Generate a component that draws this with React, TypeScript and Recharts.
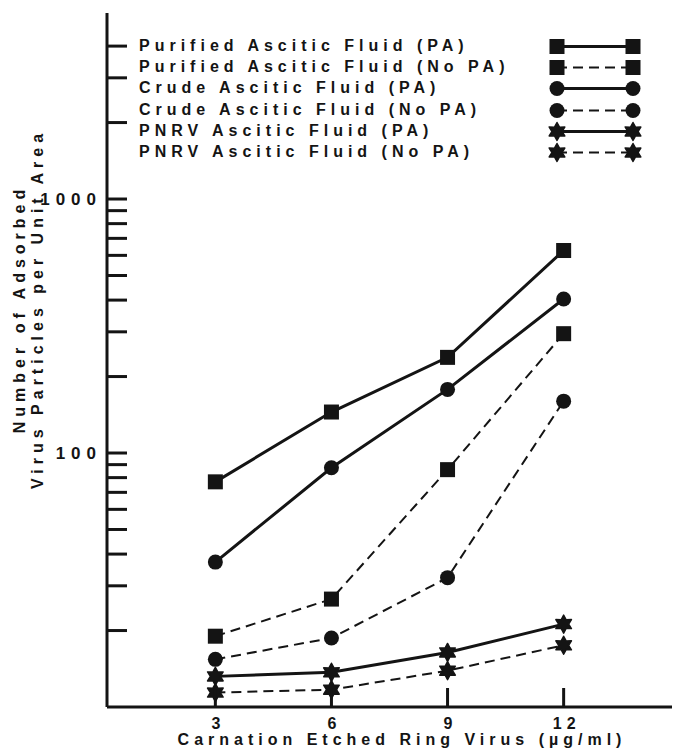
import { LineChart, Line, XAxis, YAxis, Legend } from 'recharts';

// Virus particles adsorbed vs. antigen concentration (log y)
const doses = [3, 6, 9, 12];
const purifiedPA = [77, 145, 238, 627];
const purifiedNoPA = [19, 26.6, 86, 295];
const crudePA = [37.2, 87.5, 178, 404];
const crudeNoPA = [15.4, 18.7, 32.3, 160];
const pnrvPA = [13.2, 13.7, 16.4, 21.2];
const pnrvNoPA = [11.4, 11.7, 13.9, 17.5];

const xTicks = [3, 6, 9, 12];
const yTicks = [20, 30, 40, 50, 60, 70, 80, 90, 100, 200, 300, 400, 500, 600, 700, 800, 900, 1000, 2000, 3000, 4000];
const yLabelled = [100, 1000];

const series = [
  { key: 'purifiedPA', name: 'Purified Ascitic Fluid (PA)', values: purifiedPA, shape: 'square', dashed: false },
  { key: 'purifiedNoPA', name: 'Purified Ascitic Fluid (No PA)', values: purifiedNoPA, shape: 'square', dashed: true },
  { key: 'crudePA', name: 'Crude Ascitic Fluid (PA)', values: crudePA, shape: 'circle', dashed: false },
  { key: 'crudeNoPA', name: 'Crude Ascitic Fluid (No PA)', values: crudeNoPA, shape: 'circle', dashed: true },
  { key: 'pnrvPA', name: 'PNRV Ascitic Fluid (PA)', values: pnrvPA, shape: 'star', dashed: false },
  { key: 'pnrvNoPA', name: 'PNRV Ascitic Fluid (No PA)', values: pnrvNoPA, shape: 'star', dashed: true },
];

const data = doses.map((dose, i) => {
  const row: any = { dose };
  series.forEach(s => { row[s.key] = s.values[i]; });
  return row;
});

const INK = '#141414';
const FONT = "'Liberation Sans', Arial, sans-serif";
const textStyle = { fontFamily: FONT, fontWeight: 700, fontSize: 16, letterSpacing: 5, fill: INK };
const tickStyle = { ...textStyle, fontSize: 17, letterSpacing: 6 };

const W = 675, H = 749;
const PLOT_LEFT = 107, PLOT_BOTTOM = 707;

const starPoints = (cx: number, cy: number, r1: number, r2: number, n: number) => {
  const pts: string[] = [];
  for (let i = 0; i < n * 2; i++) {
    const r = i % 2 === 0 ? r1 : r2;
    const a = (Math.PI * i) / n - Math.PI / 2;
    pts.push(`${cx + r * Math.cos(a)},${cy + r * Math.sin(a)}`);
  }
  return pts.join(' ');
};

const Marker = ({ cx, cy, shape }: { cx: number; cy: number; shape: string }) => {
  if (shape === 'square') return <rect x={cx - 7.5} y={cy - 7.5} width={15} height={15} fill={INK} />;
  if (shape === 'circle') return <circle cx={cx} cy={cy} r={7.5} fill={INK} />;
  return (
    <polygon points={starPoints(cx, cy, 9, 5, 6)} fill={INK} stroke={INK} strokeWidth={1.5} strokeLinejoin="round" />
  );
};

const YTick = ({ y, payload }: any) => (
  <g>
    <line x1={PLOT_LEFT} x2={PLOT_LEFT + 20} y1={y} y2={y} stroke={INK} strokeWidth={3} />
    {yLabelled.includes(payload.value) && (
      <text x={PLOT_LEFT - 5} y={y} dy={6} textAnchor="end" style={tickStyle}>{payload.value}</text>
    )}
  </g>
);

const XTick = ({ x, payload }: any) => (
  <g>
    <line x1={x} x2={x} y1={PLOT_BOTTOM} y2={PLOT_BOTTOM - 19} stroke={INK} strokeWidth={3} />
    <text x={x + 3} y={PLOT_BOTTOM + 22} textAnchor="middle" style={textStyle}>{payload.value}</text>
  </g>
);

const YTitle = () => (
  <g>
    <text transform="translate(25,309) rotate(-90)" textAnchor="middle" style={textStyle}>Number of Adsorbed</text>
    <text transform="translate(43,309) rotate(-90)" textAnchor="middle" style={textStyle}>Virus Particles per Unit Area</text>
  </g>
);

const XTitle = () => (
  <text x={402} y={745} textAnchor="middle" style={textStyle}>Carnation Etched Ring Virus (µg/ml)</text>
);

// legend rows follow the series order, not the payload's sorted order
const LegendBox = ({ payload }: any) => {
  const names: Record<string, string> = {};
  (payload || []).forEach((p: any) => { names[p.dataKey] = p.value; });
  return (
    <div style={{ fontFamily: FONT, fontWeight: 700, fontSize: 16, letterSpacing: 5, color: INK }}>
      {series.map(s => (
        <div key={s.key} style={{ position: 'relative', height: 21.2 }}>
          <span style={{ position: 'absolute', left: 0, top: 1, whiteSpace: 'nowrap' }}>{names[s.key] ?? s.name}</span>
          <svg width={95} height={21} style={{ position: 'absolute', left: 409, top: 0 }}>
            <line x1={9} x2={85} y1={10.5} y2={10.5} stroke={INK}
              strokeWidth={s.dashed ? 2 : 3} strokeDasharray={s.dashed ? '10 6' : undefined} />
            <Marker cx={9} cy={10.5} shape={s.shape} />
            <Marker cx={85} cy={10.5} shape={s.shape} />
          </svg>
        </div>
      ))}
    </div>
  );
};

export default function App() {
  return (
    <div style={{ position: 'absolute', left: 0, top: 0, width: W, height: H, background: '#fff' }}>
      <LineChart width={W} height={H} data={data} margin={{ top: 13, right: 3, left: 47, bottom: 0 }}>
        <XAxis dataKey="dose" type="number" domain={[0.2, 14.8]} ticks={xTicks} interval={0}
          height={42} axisLine={{ stroke: INK, strokeWidth: 3 }} tickLine={false} tick={<XTick />}
          label={<XTitle />} />
        <XAxis xAxisId="top" orientation="top" dataKey="dose" type="number" domain={[0.2, 14.8]} height={0}
          tick={false} tickLine={false} axisLine={{ stroke: INK, strokeWidth: 3 }} />
        <YAxis type="number" scale="log" domain={[10, 5400]} allowDataOverflow ticks={yTicks} interval={0}
          width={60} axisLine={{ stroke: INK, strokeWidth: 3 }} tickLine={false} tick={<YTick />}
          label={<YTitle />} />
        <Legend layout="vertical" align="center" verticalAlign="middle" content={<LegendBox />}
          wrapperStyle={{ position: 'absolute', left: 139, top: 36, width: 520 }} />
        {series.map(s => (
          <Line key={s.key} dataKey={s.key} name={s.name} type="linear" stroke={INK}
            strokeWidth={s.dashed ? 2 : 3} strokeDasharray={s.dashed ? '10 6' : undefined}
            isAnimationActive={false}
            dot={(p: any) => <Marker key={`${s.key}-${p.index}`} cx={p.cx} cy={p.cy} shape={s.shape} />}
            activeDot={false} />
        ))}
      </LineChart>
    </div>
  );
}
